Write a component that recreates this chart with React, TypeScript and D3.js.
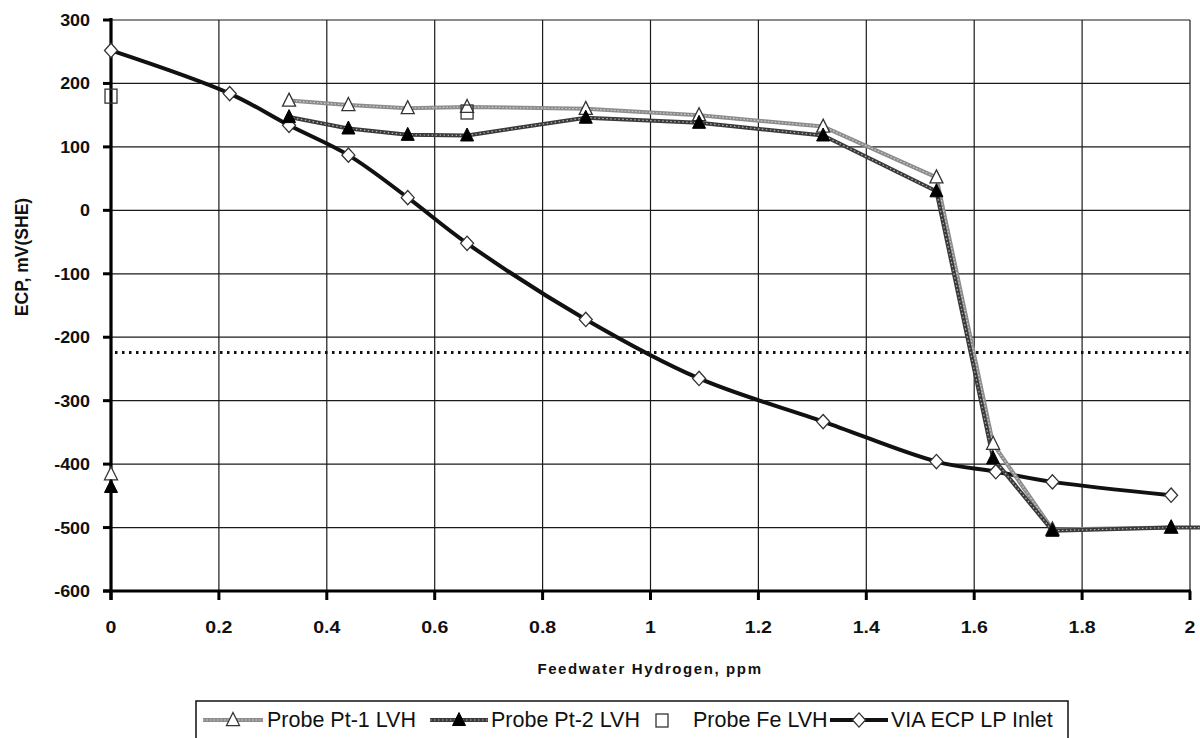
import React from "react";
import * as d3 from "d3";

type Pt = [number, number];

const xTicks = [0, 0.2, 0.4, 0.6, 0.8, 1, 1.2, 1.4, 1.6, 1.8, 2];
const yTicks = [300, 200, 100, 0, -100, -200, -300, -400, -500, -600];

// Probe Pt-1 LVH (open triangles); first point is isolated (gap afterwards)
const pt1Isolated: Pt[] = [[0, -416]];
const pt1: Pt[] = [
  [0.33, 173], [0.44, 166], [0.55, 161], [0.66, 163], [0.88, 160], [1.09, 150],
  [1.32, 132], [1.53, 52], [1.635, -368], [1.745, -503], [1.965, -500],
];
// Probe Pt-2 LVH (filled triangles)
const pt2Isolated: Pt[] = [[0, -436]];
const pt2: Pt[] = [
  [0.33, 147], [0.44, 129], [0.55, 119], [0.66, 118], [0.88, 146], [1.09, 138],
  [1.32, 118], [1.53, 30], [1.635, -391], [1.745, -505], [1.965, -500], [2.2, -500],
];
// Probe Fe LVH (open squares, markers only)
const fe: Pt[] = [[0, 180], [0.66, 155]];
// VIA ECP LP Inlet (open diamonds)
const via: Pt[] = [
  [0, 252], [0.22, 184], [0.33, 134], [0.44, 87], [0.55, 20], [0.66, -52],
  [0.88, -172], [1.09, -265], [1.32, -333], [1.53, -396], [1.64, -412],
  [1.745, -428], [1.965, -449],
];
const threshold = -224;

const legendLabels = ["Probe Pt-1 LVH", "Probe Pt-2 LVH", "Probe Fe LVH", "VIA ECP LP Inlet"];

const W = 1200;
const H = 738;
const x = d3.scaleLinear().domain([0, 2]).range([111, 1190]);
const y = d3.scaleLinear().domain([-600, 300]).range([591, 20]);

const lineLin = d3
  .line<Pt>()
  .x((d) => x(d[0]))
  .y((d) => y(d[1]));
const lineSmooth = d3
  .line<Pt>()
  .x((d) => x(d[0]))
  .y((d) => y(d[1]))
  .curve(d3.curveCatmullRom.alpha(0.5));

const FONT = "'Liberation Sans', Arial, Helvetica, sans-serif";

function triangle(cx: number, cy: number, s = 6.5) {
  return `M${cx},${cy - s * 1.15} L${cx + s},${cy + s * 0.85} L${cx - s},${cy + s * 0.85} Z`;
}
function diamond(cx: number, cy: number, s = 6.5) {
  return `M${cx},${cy - s * 1.1} L${cx + s},${cy} L${cx},${cy + s * 1.1} L${cx - s},${cy} Z`;
}

const Pt1Line = ({ d }: { d: string }) => (
  <g>
    <path d={d} fill="none" stroke="#8c8c8c" strokeWidth={4} strokeLinejoin="round" />
    <path d={d} fill="none" stroke="#cfcfcf" strokeWidth={1.2} strokeDasharray="1.5,2" />
  </g>
);
const Pt2Line = ({ d }: { d: string }) => (
  <g>
    <path d={d} fill="none" stroke="#3a3a3a" strokeWidth={4} strokeLinejoin="round" />
    <path d={d} fill="none" stroke="#b5b5b5" strokeWidth={1.2} strokeDasharray="1.5,2.5" />
  </g>
);
const ViaLine = ({ d }: { d: string }) => (
  <path d={d} fill="none" stroke="#111" strokeWidth={4} strokeLinejoin="round" />
);

// horizontally stretched text (the reference glyphs are wide)
const SText = ({
  x0, y0, sx = 1.15, anchor = "start", size = 16, bold = false, children,
}: {
  x0: number; y0: number; sx?: number; anchor?: string; size?: number; bold?: boolean; children: React.ReactNode;
}) => (
  <text
    transform={`translate(${x0},${y0}) scale(${sx},1)`}
    textAnchor={anchor}
    fontSize={size}
    fontWeight={bold ? "bold" : "normal"}
    fill="#111"
  >
    {children}
  </text>
);

export default function App() {
  const plotL = x(0);
  const plotR = x(2);
  const plotT = y(300);
  const plotB = y(-600);

  const lb = 727; // legend text baseline
  const lm = lb - 7; // legend marker centre
  const FS = 21.5;

  return (
    <svg
      width={W}
      height={H}
      style={{ position: "absolute", left: 0, top: 0, background: "#fff" }}
      fontFamily={FONT}
    >
      <rect x={0} y={0} width={W} height={H} fill="#fff" />
      {/* grid */}
      {xTicks.map((t) => (
        <line key={"gx" + t} x1={x(t)} x2={x(t)} y1={plotT} y2={plotB} stroke="#1a1a1a" strokeWidth={1.2} />
      ))}
      {yTicks.map((t) => (
        <line key={"gy" + t} x1={plotL} x2={plotR} y1={y(t)} y2={y(t)} stroke="#1a1a1a" strokeWidth={1.2} />
      ))}
      {/* threshold dotted line */}
      <line
        x1={x(0) + 4}
        x2={plotR}
        y1={y(threshold)}
        y2={y(threshold)}
        stroke="#111"
        strokeWidth={3}
        strokeDasharray="2.5,4.5"
      />
      {/* series lines */}
      <ViaLine d={lineSmooth(via) || ""} />
      <Pt1Line d={lineLin(pt1) || ""} />
      <Pt2Line d={lineLin(pt2) || ""} />

      {/* axes */}
      <line x1={plotL} x2={plotL} y1={plotT - 2} y2={plotB + 9} stroke="#000" strokeWidth={3.2} />
      <line x1={plotL - 8} x2={plotR + 1} y1={plotB} y2={plotB} stroke="#000" strokeWidth={3.2} />
      {yTicks.map((t) => (
        <line key={"ty" + t} x1={plotL - 8} x2={plotL} y1={y(t)} y2={y(t)} stroke="#000" strokeWidth={3} />
      ))}
      {xTicks.map((t) => (
        <line key={"tx" + t} x1={x(t)} x2={x(t)} y1={plotB} y2={plotB + 9} stroke="#000" strokeWidth={3} />
      ))}

      {/* markers */}
      {via.map((d, i) => (
        <path key={"v" + i} d={diamond(x(d[0]), y(d[1]))} fill="#fff" stroke="#333" strokeWidth={1.3} />
      ))}
      {[...pt1Isolated, ...pt1].map((d, i) => (
        <path key={"p1" + i} d={triangle(x(d[0]), y(d[1]))} fill="#fff" stroke="#333" strokeWidth={1.3} />
      ))}
      {[...pt2Isolated, ...pt2.filter((d) => d[0] < 2)].map((d, i) => (
        <path key={"p2" + i} d={triangle(x(d[0]), y(d[1]))} fill="#000" stroke="#000" strokeWidth={1} />
      ))}
      {fe.map((d, i) => (
        <rect key={"f" + i} x={x(d[0]) - 6} y={y(d[1]) - 7} width={12} height={14} fill="none" stroke="#333" strokeWidth={1.3} />
      ))}

      {/* tick labels */}
      {yTicks.map((t) => (
        <SText key={"ly" + t} x0={90} y0={y(t) + 6} anchor="end" size={16} bold sx={1.12}>
          {t}
        </SText>
      ))}
      {xTicks.map((t) => (
        <SText key={"lx" + t} x0={x(t)} y0={633} anchor="middle" size={17} bold sx={1.15}>
          {String(t)}
        </SText>
      ))}

      {/* axis titles */}
      <text
        x={650}
        y={674}
        textAnchor="middle"
        fontSize={15}
        fontWeight="bold"
        letterSpacing={1.6}
        fill="#111"
      >
        Feedwater Hydrogen, ppm
      </text>
      <text
        transform={`translate(28,257) rotate(-90)`}
        textAnchor="middle"
        fontSize={17.5}
        fontWeight="bold"
        fill="#111"
      >
        ECP, mV(SHE)
      </text>

      {/* legend */}
      <rect x={196} y={701} width={872} height={60} fill="#fff" stroke="#111" strokeWidth={1.5} />
      {/* item 1 */}
      <Pt1Line d={`M203,${lm} H263`} />
      <path d={triangle(233, lm)} fill="#fff" stroke="#333" strokeWidth={1.3} />
      <text x={267} y={lb} fontSize={FS} fill="#111">{legendLabels[0]}</text>
      {/* item 2 */}
      <Pt2Line d={`M430,${lm} H488`} />
      <path d={triangle(459, lm)} fill="#000" stroke="#000" strokeWidth={1} />
      <text x={491} y={lb} fontSize={FS} fill="#111">{legendLabels[1]}</text>
      {/* item 3 */}
      <rect x={656} y={lm - 6} width={12} height={13} fill="none" stroke="#333" strokeWidth={1.3} />
      <text x={693} y={lb} fontSize={FS} fill="#111">{legendLabels[2]}</text>
      {/* item 4 */}
      <ViaLine d={`M830,${lm} H888`} />
      <path d={diamond(859, lm)} fill="#fff" stroke="#333" strokeWidth={1.3} />
      <text x={891} y={lb} fontSize={FS} fill="#111">{legendLabels[3]}</text>
    </svg>
  );
}
